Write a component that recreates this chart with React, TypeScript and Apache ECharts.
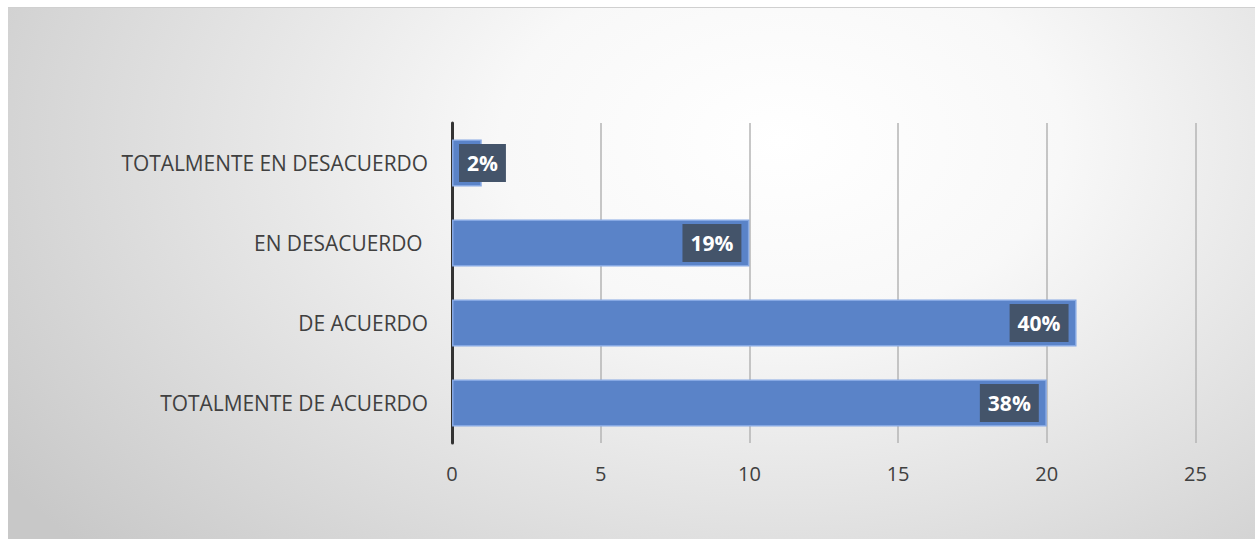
import React, { useEffect, useRef } from "react";
import * as echarts from "echarts";

const categories = [
  "TOTALMENTE DE ACUERDO",
  "DE ACUERDO",
  "EN DESACUERDO ",
  "TOTALMENTE EN DESACUERDO",
];
const values = [20, 21, 10, 1];
const percentLabels = ["38%", "40%", "19%", "2%"];
const xTicks = { min: 0, max: 25, interval: 5 };

export default function App() {
  const ref = useRef<HTMLDivElement>(null);
  useEffect(() => {
    if (!ref.current) return;
    const chart = echarts.init(ref.current, undefined, { renderer: "svg" });
    const font = "Open Sans";
    chart.setOption({
      animation: false,
      textStyle: { fontFamily: font },
      grid: { left: 444, right: 59.5, top: 115, bottom: 96, containLabel: false },
      xAxis: {
        type: "value",
        min: xTicks.min,
        max: xTicks.max,
        interval: xTicks.interval,
        axisLine: { show: false },
        axisTick: { show: false },
        splitLine: { show: true, lineStyle: { color: "#b4b4b4", width: 1.5 } },
        axisLabel: { color: "#404040", fontSize: 20, margin: 20, fontFamily: font },
      },
      yAxis: {
        type: "category",
        data: categories,
        axisLine: { show: true, lineStyle: { color: "#333333", width: 3 } },
        axisTick: { show: false },
        axisLabel: { color: "#404040", fontSize: 20.9, margin: 24, fontFamily: font },
      },
      series: [
        {
          type: "bar",
          barWidth: 47,
          data: values.map((v, i) => ({
            value: v,
            label:
              v < 3
                ? { position: "insideLeft", distance: 7 }
                : { position: "insideRight", distance: 8 },
          })),
          itemStyle: { color: "#5a83c8", borderColor: "#86a8e3", borderWidth: 1.5 },
          label: {
            show: true,
            formatter: (p: any) => percentLabels[p.dataIndex],
            color: "#ffffff",
            fontWeight: "bold",
            fontSize: 21,
            lineHeight: 22,
            fontFamily: font,
            backgroundColor: "#44546a",
            padding: [8, 8, 8, 8],
          },
        },
      ],
    });
    return () => chart.dispose();
  }, []);
  return (
    <div
      style={{
        position: "absolute",
        left: 8,
        top: 7,
        width: 1247,
        height: 532,
        background:
          "radial-gradient(ellipse 75% 115% at 62% 25%, #ffffff 0%, #f8f8f8 30%, #c8c8c8 100%)",
        borderTop: "1px solid #d0d0d0",
        boxSizing: "border-box",
      }}
    >
      <div ref={ref} style={{ width: "100%", height: "100%" }} />
    </div>
  );
}
